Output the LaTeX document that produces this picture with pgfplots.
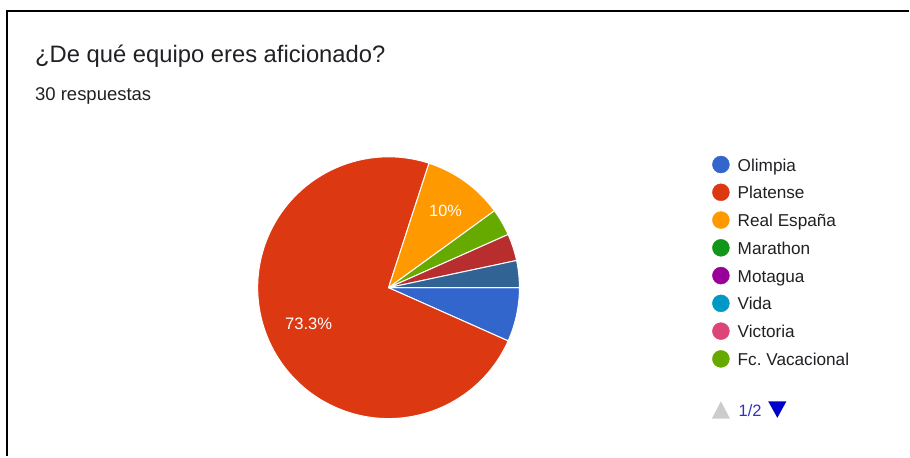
\documentclass[border=0pt]{standalone}
\usepackage{pgfplots}
\pgfplotsset{compat=1.18}
\usepackage{pgfplotstable}
\usepackage{fontspec}
\setmainfont{Liberation Sans}

\definecolor{cOlimpia}{HTML}{3366CC}
\definecolor{cPlatense}{HTML}{DC3912}
\definecolor{cReal}{HTML}{FF9900}
\definecolor{cMarathon}{HTML}{109618}
\definecolor{cMotagua}{HTML}{990099}
\definecolor{cVida}{HTML}{0099C6}
\definecolor{cVictoria}{HTML}{DD4477}
\definecolor{cVaca}{HTML}{66AA00}
\definecolor{cNine}{HTML}{B82E2E}
\definecolor{cTen}{HTML}{316395}
\definecolor{txt}{HTML}{202124}
\definecolor{pagertxt}{HTML}{2F2FCC}
\definecolor{pagerblue}{HTML}{0000CC}
\definecolor{pagergrey}{HTML}{CCCCCC}

% responses per team, in the order the pie draws them (clockwise from 3 o'clock)
\pgfplotstableread{
count color
2 cOlimpia
22 cPlatense
3 cReal
1 cVaca
1 cNine
1 cTen
}\slices

\begin{document}
\begin{tikzpicture}
\begin{axis}[
  x=1pt, y=1pt,
  xmin=0, xmax=910, ymin=0, ymax=457,
  scale only axis, hide axis, clip=false,
  legend image code/.code={\fill[#1] (8.5pt,6.5pt) circle[radius=8.5pt];},
  legend style={
    at={(axis cs:713,301)}, anchor=north west,
    draw=none, fill=none, inner sep=0pt, outer sep=0pt,
    font=\fontsize{17.2}{20}\selectfont,
    nodes={inner sep=0pt, text height=13pt, text depth=4pt, anchor=base west, text=txt},
    row sep=8.6pt, column sep=8.1pt,
    cells={anchor=west},
  },
]
\path (axis cs:0,0) rectangle (axis cs:910,457);
% screenshot frame
\draw[black, line width=2pt] (axis cs:7,0) -- (axis cs:7,446) -- (axis cs:910,446);

% title and subtitle
\node[anchor=base west, inner sep=0pt, text=txt, font=\fontsize{23.8}{28}\selectfont]
  at (axis cs:35,394) {¿De qué equipo eres aficionado?};
\node[anchor=base west, inner sep=0pt, text=txt, font=\fontsize{18.5}{22}\selectfont]
  at (axis cs:35,356) {30 respuestas};

% pie slices
\def\startangle{0}
\pgfplotsforeachungrouped \i in {0,...,5}{%
  \pgfplotstablegetelem{\i}{count}\of\slices \let\cnt\pgfplotsretval
  \pgfplotstablegetelem{\i}{color}\of\slices \let\col\pgfplotsretval
  \pgfmathsetmacro\endangle{\startangle-12*\cnt}%
  \edef\temp{\noexpand\filldraw[fill=\col, draw=white, line width=1pt, line join=round]
    (axis cs:389,169) -- ++(\startangle:131pt)
    arc[start angle=\startangle, end angle=\endangle, radius=131pt] -- cycle;}%
  \temp
  \global\let\startangle\endangle
}

% slice labels
\node[text=white, inner sep=0pt, font=\fontsize{16.3}{19}\selectfont] at (axis cs:446,246) {10\%};
\node[text=white, inner sep=0pt, font=\fontsize{16.6}{19}\selectfont] at (axis cs:309,133) {73.3\%};

% legend
\addlegendimage{cOlimpia}\addlegendentry{Olimpia}
\addlegendimage{cPlatense}\addlegendentry{Platense}
\addlegendimage{cReal}\addlegendentry{Real España}
\addlegendimage{cMarathon}\addlegendentry{Marathon}
\addlegendimage{cMotagua}\addlegendentry{Motagua}
\addlegendimage{cVida}\addlegendentry{Vida}
\addlegendimage{cVictoria}\addlegendentry{Victoria}
\addlegendimage{cVaca}\addlegendentry{Fc.\ Vacacional}

% pager
\fill[pagergrey] (axis cs:712.7,38) -- (axis cs:730.7,38) -- (axis cs:721.7,55.3) -- cycle;
\node[anchor=base west, inner sep=0pt, text=pagertxt, font=\fontsize{16.5}{19}\selectfont]
  at (axis cs:739.3,40.3) {1/2};
\fill[pagerblue] (axis cs:769,55.3) -- (axis cs:787.3,55.3) -- (axis cs:778.2,38.7) -- cycle;
\end{axis}
\end{tikzpicture}
\end{document}
